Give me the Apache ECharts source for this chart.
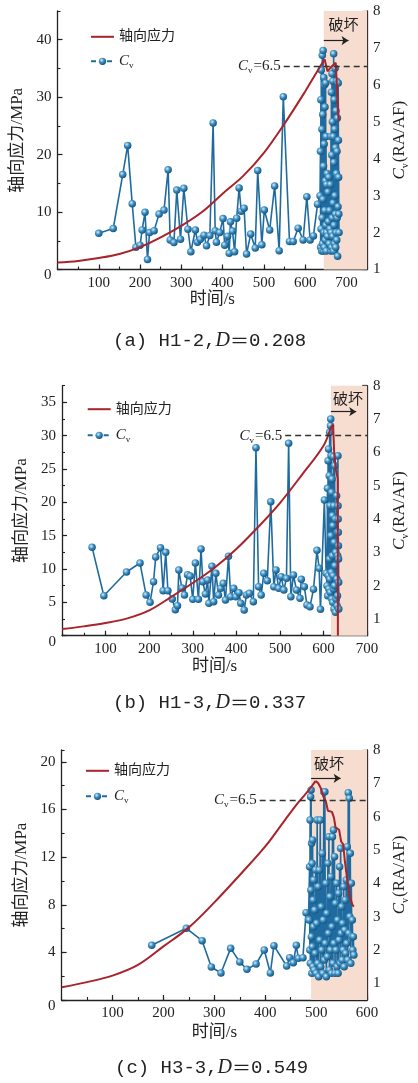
<!DOCTYPE html>
<html>
<head>
<meta charset="utf-8">
<title>轴向应力与 Cv 随时间变化</title>
<script src="https://cdn.jsdelivr.net/npm/echarts@6/dist/echarts.min.js"></script>
<style>
  html, body { margin: 0; padding: 0; background: #ffffff; }
  #chart { width: 418px; height: 1083px; }
</style>
</head>
<body>
<div id="chart"></div>
<script>
// ---------------- data ----------------
// shared tick labels
const cvTicks = [1, 2, 3, 4, 5, 6, 7, 8];
const timeTicksAB = [100, 200, 300, 400, 500, 600, 700];
const timeTicksC = [100, 200, 300, 400, 500, 600];
const stressTicksA = [0, 10, 20, 30, 40];
const stressTicksB = [0, 5, 10, 15, 20, 25, 30, 35];
const stressTicksC = [0, 4, 8, 12, 16, 20];
const CV_THRESHOLD = 6.5;

// captions
const specimenIds = ['(a) H1-2', '(b) H1-3', '(c) H3-3'];
const damageValues = ['0.208', '0.337', '0.549'];

// (a) H1-2 — axial stress (MPa)
const aStressTime = [0, 50, 100, 150, 200, 250, 300, 350, 400, 450, 500, 550, 600, 625, 647, 654, 662, 674, 678, 681];
const aStress = [1.2, 1.5, 2.0, 2.7, 3.9, 5.6, 7.6, 10.0, 13.2, 16.3, 20.3, 25.4, 31.0, 34.0, 36.6, 34.5, 35.2, 36.0, 30.5, 25.8];
// (a) Cv = RA/AF before failure
const aCvTime = [100, 135, 158, 170, 181, 190, 200, 205, 212, 218, 223, 234, 246, 258, 268, 273, 282, 289, 298, 306,
  316, 323, 334, 339, 346, 355, 361, 369, 377, 382, 385, 393, 401, 405, 412, 416, 419, 424, 429, 434,
  440, 445, 452, 458, 468, 479, 485, 495, 501, 514, 526, 537, 547, 562, 571, 583, 595, 604, 612, 620, 630];
const aCv = [1.98, 2.11, 3.57, 4.36, 2.78, 1.60, 1.66, 2.07, 2.55, 1.27, 2.0, 2.05, 2.5, 2.61, 3.7, 1.8, 1.73, 3.15, 1.82, 3.2,
  2.09, 1.48, 2.07, 1.74, 1.82, 1.93, 1.64, 1.92, 4.97, 2.05, 1.74, 2.0, 2.38, 1.66, 1.9, 1.44, 2.29, 2.04, 1.48, 2.39,
  3.21, 2.58, 2.66, 1.42, 1.96, 1.58, 3.68, 1.67, 2.61, 2.07, 3.26, 1.51, 5.68, 1.76, 1.76, 2.12, 1.8, 2.97, 1.8, 1.91, 2.77];
// (a) Cv during failure
const aBurstTime = [636, 637, 637.5, 638, 638.5, 639, 640, 640.5, 641, 641.5,
  642, 642.5, 643, 643.5, 644, 644.5, 645, 645.5, 646, 646.5,
  647, 647.5, 648, 648.5, 649, 649.5, 650, 650.5, 651, 651.5,
  652, 653, 654, 655, 656, 657, 658, 659, 660, 661,
  662, 662.5, 663, 663.5, 664, 664.5, 665, 665.5, 666, 666.5,
  667, 667.5, 668, 668.5, 669, 669.5, 670, 670.5, 671, 671.5,
  672, 672.5, 673, 673.5, 674, 674.5, 675, 675.5, 676, 676.5,
  677, 677.5, 678, 678.5, 679, 679.5, 680, 680.5, 681, 681.5, 682];
const aBurstCv = [3.0, 4.2, 1.6, 5.6, 2.1, 6.4, 1.5, 4.8, 2.4, 6.8,
  1.7, 5.2, 2.9, 6.93, 1.5, 3.8, 6.2, 2.0, 4.4, 1.6,
  6.0, 2.6, 5.4, 1.8, 3.4, 6.05, 2.2, 4.6, 1.5, 3.3,
  2.0, 3.6, 1.9, 3.1, 2.3, 3.5, 1.7, 2.6, 2.1, 3.3,
  1.5, 4.6, 2.0, 5.8, 1.6, 4.1, 6.3, 2.4, 5.0, 1.9,
  6.1, 2.8, 4.6, 1.5, 6.84, 3.9, 2.2, 5.6, 1.7, 4.8,
  3.0, 6.45, 2.5, 4.3, 1.6, 5.3, 2.0, 3.6, 6.1, 1.8,
  4.2, 2.4, 5.1, 1.36, 3.5, 2.7, 6.05, 4.5, 3.5, 2.5, 2.0];

// (b) H1-3 — axial stress (MPa)
const bStressTime = [0, 50, 100, 150, 200, 250, 300, 350, 400, 450, 500, 550, 600, 617, 619, 622, 624.5, 628, 631.5, 632.5, 633];
const bStress = [1.0, 1.4, 1.9, 2.6, 3.8, 5.8, 7.9, 10.2, 13.0, 16.3, 19.9, 24.1, 28.5, 31.3, 31.6, 31.6, 27.5, 25.0, 23.9, 23.5, 0];
// (b) Cv before failure
const bCvTime = [69, 96, 148, 179, 193, 202, 210, 215, 226, 232, 238, 243, 253, 260, 265, 268, 275, 281, 288, 294,
  300, 306, 313, 319, 323, 329, 334, 337, 344, 348, 353, 359, 364, 370, 375, 382, 387, 394, 399, 406,
  410, 418, 423, 430, 439, 445, 451, 457, 463, 471, 479, 486, 491, 497, 503, 509, 515, 520, 525, 531,
  538, 546, 549, 556, 562, 569, 577, 585, 590, 593, 602, 606];
const bCv = [3.15, 1.70, 2.41, 2.68, 1.72, 1.50, 2.12, 2.86, 3.14, 1.85, 3.0, 1.85, 1.60, 1.28, 1.40, 2.47, 1.93, 1.72, 2.33, 2.29,
  1.59, 2.68, 1.59, 3.1, 2.12, 1.75, 2.17, 1.47, 2.58, 1.52, 2.37, 1.72, 1.92, 2.07, 1.57, 2.88, 1.67, 1.92, 1.67, 1.79,
  1.47, 1.27, 1.72, 1.77, 1.52, 6.14, 1.97, 1.72, 2.37, 2.15, 4.52, 1.97, 2.47, 1.92, 2.27, 1.87, 2.22, 6.27, 1.67, 2.32,
  1.87, 1.62, 2.19, 1.97, 1.42, 1.37, 1.89, 3.06, 2.52, 1.29, 4.57, 2.37];
// (b) Cv during failure
const bBurstTime = [608, 609, 609.5, 610.5, 611, 611.5, 612, 613, 613.5, 614,
  614.5, 615, 615.5, 616, 616.5, 617, 617.5, 618, 618.5, 619,
  619.5, 620, 620.5, 621, 621.5, 622, 622.7, 623, 623.5, 624,
  624.5, 625, 625.5, 626, 627, 627.5, 628, 629, 630, 630.5,
  631, 631.5, 632, 632.5, 633, 633.3, 633.6, 633.9, 634.2, 634.5, 634.8, 635];
const bBurstCv = [2.0, 4.92, 1.7, 5.75, 2.3, 6.1, 1.9, 5.3, 2.8, 6.6,
  2.2, 4.4, 1.8, 6.8, 7.0, 3.5, 5.9, 2.4, 4.8, 1.6,
  5.2, 2.9, 4.1, 1.5, 3.8, 2.3, 5.87, 1.9, 4.4, 1.3,
  3.3, 2.0, 5.6, 2.6, 4.0, 1.2, 3.0, 1.6, 4.7, 2.2,
  1.4, 3.6, 1.7, 2.9, 5.9, 4.4, 4.0, 3.6, 3.2, 2.8, 2.1, 1.3];

// (c) H3-3 — axial stress (MPa)
const cStressTime = [0, 50, 100, 150, 200, 250, 300, 350, 400, 440, 465, 485, 499, 504, 509, 514, 519, 523, 531, 535,
  538, 545, 549, 553, 556, 561, 566, 571, 574];
const cStress = [1.07, 1.5, 2.05, 2.95, 4.5, 6.1, 8.2, 10.5, 12.9, 15.2, 16.6, 17.6, 18.4, 18.2, 17.8, 17.1, 16.7, 15.9, 15.8, 15.3,
  14.5, 14.3, 13.3, 13.1, 11.8, 10.1, 8.7, 8.0, 7.85];
// (c) Cv before failure
const cCvTime = [177, 245, 276, 294, 313, 332, 350, 364, 382, 398, 410, 417, 442, 448, 455, 461, 465, 474, 480, 485];
const cCv = [2.14, 2.65, 2.28, 1.49, 1.31, 2.05, 1.64, 1.42, 1.58, 2.0, 1.31, 2.13, 1.52, 1.77, 1.62, 2.14, 1.75, 1.77, 3.12, 2.92];
// (c) Cv during failure
const cBurstTime = [486, 487, 487.5, 488, 488.5, 489, 489.5, 490, 490.5, 491, 491.5, 492, 492.5, 493, 493.5, 494, 494.5, 495,
  496, 497, 498, 499, 500, 501, 502, 503, 504, 505,
  506, 507, 508, 509, 510, 511, 512, 513, 514, 515,
  516, 517, 518, 519, 520, 521, 522, 523, 524, 525,
  526, 527, 528, 529, 530, 531, 532, 533, 534, 535,
  536, 537, 538, 539, 540, 541, 542, 543, 544, 545,
  546, 547, 548, 549, 550, 551, 552, 553, 554, 555,
  556, 557, 558, 559, 560, 561, 562, 563, 564, 565,
  566, 567, 568, 569, 570, 571, 572, 573, 574];
const cBurstCv = [2.9, 4.5, 2.0, 5.9, 1.6, 6.6, 3.8, 6.8, 2.4, 5.2, 1.3, 4.6, 2.1, 5.3, 1.5, 3.5, 2.7, 4.1,
  1.4, 3.2, 1.9, 4.4, 1.3, 2.8, 5.9, 1.6, 3.9, 1.2,
  4.4, 2.3, 5.9, 1.5, 3.3, 2.0, 4.9, 1.3, 2.9, 6.75,
  1.7, 6.75, 2.2, 4.0, 1.2, 3.1, 1.8, 4.6, 2.5, 5.4,
  1.4, 3.6, 2.0, 4.2, 1.3, 2.7, 5.4, 1.6, 5.6, 2.2,
  4.8, 1.3, 3.4, 2.0, 4.0, 1.5, 2.9, 1.3, 3.7, 2.3,
  4.5, 1.6, 5.05, 2.5, 3.3, 1.7, 2.8, 2.0, 3.9, 1.5,
  2.6, 3.5, 1.9, 4.1, 2.2, 5.1, 1.7, 6.72, 2.5, 6.55,
  3.0, 4.9, 1.6, 4.0, 2.4, 2.9, 2.0, 2.4, 1.85];

// index of the peak-stress sample in each stress record
const peakIndex = [14, 13, 12];

// failure-stage annotations per specimen (s, Cv)
const failureStart = [645, 617, 490];
const arrowEnd = [705, 675, 548];
const arrowLevel = [7.2, 7.22, 7.15];
const thresholdFrom = [548, 512, 389];

// ---------------- styles ----------------
const RED = '#a8232b';
const BLUE = '#1f6b9f';
const INK = '#222222';
const SHADE = '#f6ddd0';
const SERIF = '"Liberation Serif", "Noto Sans CJK SC", serif';
const MONO = '"Liberation Mono", "Noto Sans CJK SC", monospace';

const ballFill = {
  type: 'radial', x: 0.38, y: 0.35, r: 0.7,
  colorStops: [
    { offset: 0, color: '#d4eefb' },
    { offset: 0.45, color: '#3d8fc2' },
    { offset: 1, color: '#0f4d78' }
  ]
};

function cvRich(size) {
  return {
    i: { fontFamily: '"Liberation Serif"', fontStyle: 'italic', fontWeight: 'normal', fontSize: size, color: INK, lineHeight: size + 3 },
    s: { fontFamily: '"Liberation Serif"', fontWeight: 'normal', fontSize: Math.round(size * 0.6), color: INK, verticalAlign: 'bottom', lineHeight: Math.round(size * 0.6), padding: [0, 1, 0, 0] },
    n: { fontFamily: '"Liberation Serif"', fontWeight: 'normal', fontSize: size, color: INK, lineHeight: size + 3 }
  };
}

// panel layout
const layouts = [
  {
    grid: { left: 57.5, top: 11, width: 319.5, height: 258.5 },
    xMax: 750, timeTicks: timeTicksAB, stressMax: 45, stressTicks: stressTicksA, stressMinor: 5, cvMin: 1,
    leftGap: 26, rightGap: 20, xGap: 22,
    legend: { left: 90, top: 29.8, gap: 10 },
    failLabel: { distance: 8, offset: [-2, 0] },
    caption: { left: 113, top: 330 }
  },
  {
    grid: { left: 62, top: 385.7, width: 308, height: 250 },
    xMax: 700, timeTicks: timeTicksAB, stressMax: 37.5, stressTicks: stressTicksB, stressMinor: 2.5, cvMin: 0.5,
    leftGap: 24.5, rightGap: 20, xGap: 22,
    legend: { left: 86.7, top: 402.2, gap: 11.6 },
    failLabel: { distance: 7, offset: [-1, 0] },
    caption: { left: 113, top: 692 }
  },
  {
    grid: { left: 61.6, top: 750, width: 308.4, height: 250 },
    xMax: 600, timeTicks: timeTicksC, stressMax: 21, stressTicks: stressTicksC, stressMinor: 2, cvMin: 0.5,
    leftGap: 25, rightGap: 18.5, xGap: 24,
    legend: { left: 85, top: 763.8, gap: 11 },
    failLabel: { distance: 8, offset: [-10, 0] },
    caption: { left: 115, top: 1057 }
  }
];

const stressSets = [[aStressTime, aStress], [bStressTime, bStress], [cStressTime, cStress]];
const cvSets = [
  [aCvTime.concat(aBurstTime), aCv.concat(aBurstCv)],
  [bCvTime.concat(bBurstTime), bCv.concat(bBurstCv)],
  [cCvTime.concat(cBurstTime), cCv.concat(cBurstCv)]
];

const pairs = (xs, ys) => xs.map((x, k) => [x, ys[k]]);

// axis with labelled ticks
function mainAxis(o) {
  const vertical = o.position === 'left' || o.position === 'right';
  return {
    type: 'value', gridIndex: o.gridIndex, position: o.position, min: o.min, max: o.max,
    axisLine: { show: true, onZero: false, lineStyle: { color: INK, width: 1.3 } },
    axisTick: { show: true, inside: true, length: 5, customValues: o.ticks, lineStyle: { color: INK, width: 1.2 } },
    axisLabel: {
      show: true, customValues: o.ticks, margin: 6, color: INK, fontFamily: SERIF, fontSize: 15,
      formatter: o.zeroShift ? (v => (v === 0 ? '{z|0}' : String(v))) : (v => String(v)),
      rich: { z: { padding: [12, 0, 0, 0], fontFamily: SERIF, fontSize: 15, color: INK } }
    },
    splitLine: { show: false },
    name: o.name, nameLocation: 'middle', nameGap: o.nameGap, nameRotate: vertical ? 90 : 0,
    nameTextStyle: { color: INK, fontFamily: SERIF, fontSize: 17, rich: o.nameRich }
  };
}

// unlabelled axis carrying the short minor ticks
function minorAxis(o) {
  return {
    type: 'value', gridIndex: o.gridIndex, position: o.position, min: o.min, max: o.max, interval: o.interval,
    axisLine: { show: false, onZero: false },
    axisTick: { show: true, inside: true, length: 3, lineStyle: { color: INK, width: 1.1 } },
    axisLabel: { show: false },
    splitLine: { show: false }
  };
}

const option = {
  animation: false,
  backgroundColor: '#ffffff',
  grid: [], xAxis: [], yAxis: [], series: [], legend: [], title: []
};

layouts.forEach((p, i) => {
  option.grid.push(Object.assign({ containLabel: false }, p.grid));

  const xi = option.xAxis.length;
  option.xAxis.push(mainAxis({ gridIndex: i, position: 'bottom', min: 0, max: p.xMax, ticks: p.timeTicks, name: '时间/s', nameGap: p.xGap }));
  option.xAxis.push(minorAxis({ gridIndex: i, position: 'bottom', min: 0, max: p.xMax, interval: 50 }));

  const yl = option.yAxis.length;
  option.yAxis.push(mainAxis({ gridIndex: i, position: 'left', min: 0, max: p.stressMax, ticks: p.stressTicks, zeroShift: true, name: '轴向应力/MPa', nameGap: p.leftGap }));
  option.yAxis.push(minorAxis({ gridIndex: i, position: 'left', min: 0, max: p.stressMax, interval: p.stressMinor }));
  const yr = option.yAxis.length;
  option.yAxis.push(mainAxis({ gridIndex: i, position: 'right', min: p.cvMin, max: 8, ticks: cvTicks, name: '{i|C}{s|v}{n|(RA/AF)}', nameGap: p.rightGap, nameRich: cvRich(17) }));
  option.yAxis.push(minorAxis({ gridIndex: i, position: 'right', min: p.cvMin, max: 8, interval: 0.5 }));

  // failure zone shading, label and arrow
  option.series.push({
    type: 'line', name: 'failure-' + i, xAxisIndex: xi, yAxisIndex: yr,
    data: [[failureStart[i], arrowLevel[i]]], symbol: 'none', lineStyle: { opacity: 0 },
    silent: true, legendHoverLink: false, z: 0,
    markArea: {
      silent: true, itemStyle: { color: SHADE },
      label: { show: true, position: 'insideTop', distance: p.failLabel.distance, offset: p.failLabel.offset, color: INK, fontFamily: SERIF, fontSize: 15 },
      emphasis: { disabled: true },
      data: [[{ name: '破坏', xAxis: failureStart[i] }, { xAxis: p.xMax }]]
    },
    markLine: {
      silent: true, symbol: ['none', 'arrow'], symbolSize: 7,
      lineStyle: { color: INK, width: 1.2, type: 'solid' },
      label: { show: false }, emphasis: { disabled: true },
      data: [[{ coord: [failureStart[i], arrowLevel[i]] }, { coord: [arrowEnd[i], arrowLevel[i]] }]]
    }
  });

  // Cv = RA/AF
  option.series.push({
    type: 'line', name: 'Cv', xAxisIndex: xi, yAxisIndex: yr,
    data: pairs(cvSets[i][0], cvSets[i][1]),
    symbol: 'circle', symbolSize: 7.5, showSymbol: true,
    lineStyle: { color: BLUE, width: 1.6 }, itemStyle: { color: ballFill, borderWidth: 0 },
    emphasis: { disabled: true }, z: 3,
    markLine: {
      silent: true, symbol: 'none',
      lineStyle: { color: '#333333', width: 1.3, type: [6, 4] },
      label: { show: true, position: 'start', distance: 3, formatter: '{i|C}{s|v}{n|=' + CV_THRESHOLD + '}', rich: cvRich(15) },
      emphasis: { disabled: true },
      data: [[{ coord: [thresholdFrom[i], CV_THRESHOLD] }, { coord: [p.xMax, CV_THRESHOLD] }]]
    }
  });

  // axial stress: smooth loading branch up to the peak, then the post-peak branch as recorded
  const stressPts = pairs(stressSets[i][0], stressSets[i][1]);
  const k = peakIndex[i];
  option.series.push({
    type: 'line', name: '轴向应力', xAxisIndex: xi, yAxisIndex: yl,
    data: stressPts.slice(0, k + 1),
    symbol: 'none', smooth: 0.35,
    lineStyle: { color: RED, width: 2 }, itemStyle: { color: RED },
    emphasis: { disabled: true }, z: 4
  });
  option.series.push({
    type: 'line', name: '轴向应力', xAxisIndex: xi, yAxisIndex: yl,
    data: stressPts.slice(k),
    symbol: 'none', smooth: false,
    lineStyle: { color: RED, width: 2 }, itemStyle: { color: RED },
    emphasis: { disabled: true }, z: 4
  });

  option.legend.push({
    orient: 'vertical', left: p.legend.left, top: p.legend.top, padding: 0,
    itemWidth: 23, itemHeight: 9, itemGap: p.legend.gap, selectedMode: false,
    data: [
      { name: '轴向应力', itemStyle: { opacity: 0 } },
      { name: 'Cv', lineStyle: { type: [5, 3] } }
    ],
    formatter: n => (n === 'Cv' ? '{i|C}{s|v}' : n),
    textStyle: { color: INK, fontFamily: SERIF, fontSize: 14, rich: cvRich(15) }
  });

  option.title.push({
    left: p.caption.left, top: p.caption.top, padding: 0,
    text: '{m|' + specimenIds[i] + ',}{d|D}{e|＝}{m|' + damageValues[i] + '}',
    textStyle: {
      fontWeight: 'normal',
      rich: {
        m: { fontFamily: MONO, fontWeight: 'normal', fontSize: 19, color: INK, lineHeight: 22 },
        d: { fontFamily: '"Liberation Serif"', fontStyle: 'italic', fontWeight: 'normal', fontSize: 20, color: INK, lineHeight: 22 },
        e: { fontFamily: '"Noto Sans CJK SC"', fontWeight: 'normal', fontSize: 19, color: INK, lineHeight: 22 }
      }
    }
  });
});

const chart = echarts.init(document.getElementById('chart'), null, { renderer: 'canvas' });
chart.setOption(option);
</script>
</body>
</html>
